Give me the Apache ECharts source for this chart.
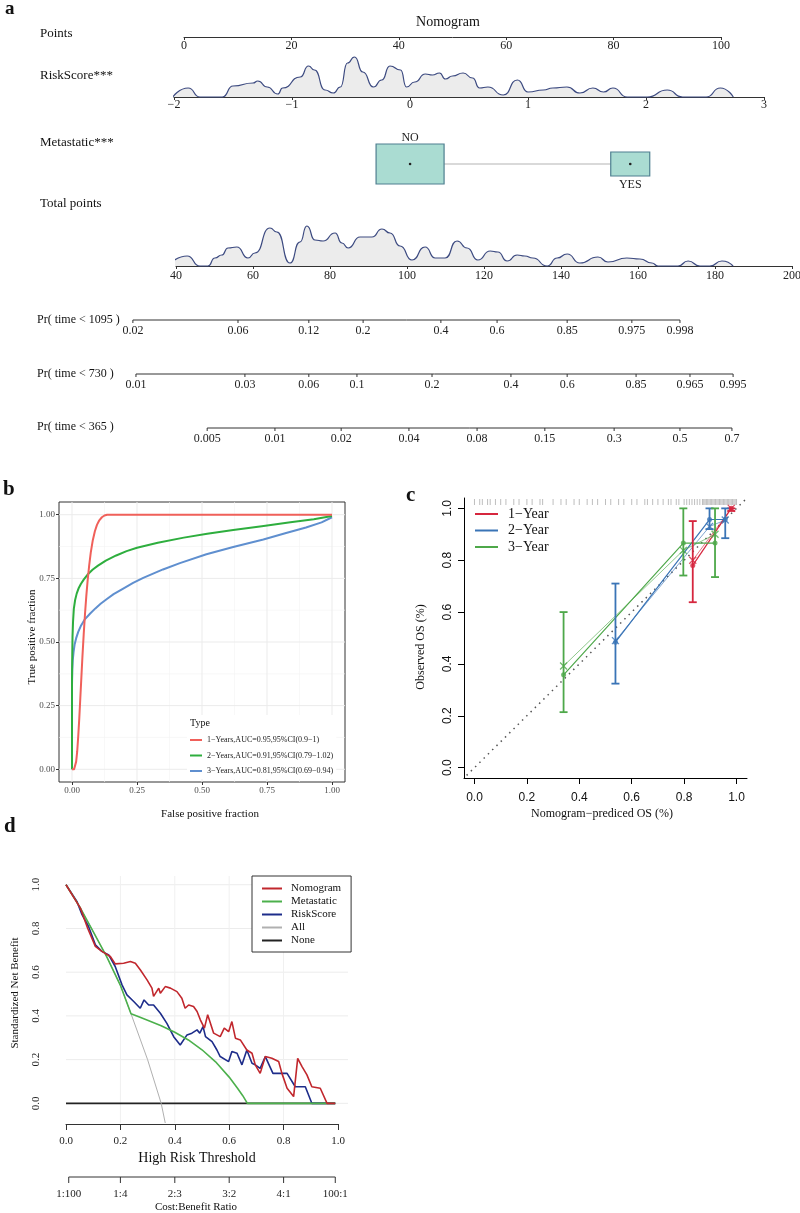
<!DOCTYPE html>
<html>
<head>
<meta charset="utf-8">
<script src="https://cdn.jsdelivr.net/npm/echarts@6/dist/echarts.min.js"></script>
<style>
html,body{margin:0;padding:0;background:#fff;}
#chart{width:800px;height:1213px;}
</style>
</head>
<body>
<div id="chart"></div>
<script>
// ================= DATA =================
// --- Panel a: nomogram ---
const nomoRowLabels = ['Points', 'RiskScore***', 'Metastatic***', 'Total points'];
const riskScoreX = [-2.01,-1.88,-1.78,-1.59,-1.50,-1.33,-1.29,-1.21,-1.12,-1.08,-0.93,-0.86,-0.81,-0.72,-0.65,-0.59,-0.53,-0.47,-0.40,-0.31,-0.24,-0.17,-0.08,-0.03,0.04,0.13,0.19,0.25,0.30,0.36,0.45,0.53,0.59,0.66,0.79,0.91,1.00,1.13,1.21,1.33,1.44,1.55,1.64,1.72,1.84,2.01,2.18,2.31,2.51,2.63,2.74];
const riskScoreDensity = [0,9,0,0,11,14,16,10,3,9,20,31,27,7,4,10,34,40,25,10,17,31,27,10,15,23,22,24,18,21,24,19,9,10,2,17,5,7,9,10,4,9,5,9,0,0,7,0,0,9,0];
const metaLevels = ['NO', 'YES'];
const metaPoints = [42.1, 83.1];
const totalPointsX = [37.9,42.9,46.2,48.3,50.1,51.9,53.5,55.8,58.7,60.5,64.4,66.2,69.6,72.2,74.0,76.1,78.2,81.3,83.1,84.7,87.8,90.9,93.5,95.6,98.2,101.3,104.7,107.3,109.9,113.0,115.6,118.4,121.6,123.6,126.0,128.6,130.6,132.7,136.4,139.0,141.6,144.9,149.6,152.2,157.1,160.5,163.6,165.2,170.4,173.0,176.1,178.7,181.8,184.7];
const totalPointsDensity = [0,10,0,0,8,11,18,19,8,13,38,34,3,24,40,26,25,33,23,18,29,29,37,33,20,6,19,8,8,25,18,6,15,14,5,11,10,8,0,8,12,3,9,4,8,7,3,0,0,5,0,0,5,0];
const probRowNames = ['Pr( time < 1095 )', 'Pr( time < 730 )', 'Pr( time < 365 )'];
const prob1095Labels = ['0.02','0.06','0.12','0.2','0.4','0.6','0.85','0.975','0.998'];
const prob1095Points = [28.8,56.1,74.5,88.6,108.8,123.4,141.6,158.4,170.9];
const prob730Labels = ['0.01','0.03','0.06','0.1','0.2','0.4','0.6','0.85','0.965','0.995'];
const prob730Points = [29.6,57.9,74.5,87.0,106.5,127.0,141.6,159.5,173.5,184.7];
const prob365Labels = ['0.005','0.01','0.02','0.04','0.08','0.15','0.3','0.5','0.7'];
const prob365Points = [48.1,65.7,82.9,100.5,118.2,135.8,153.8,170.9,184.4];

// --- Panel b: ROC ---
const rocNames = ['1\u2212Years,AUC=0.95,95%CI(0.9\u22121)', '2\u2212Years,AUC=0.91,95%CI(0.79\u22121.02)', '3\u2212Years,AUC=0.81,95%CI(0.69\u22120.94)'];
const rocTicks = [0, 0.25, 0.5, 0.75, 1];
const rocMinorTicks = [0.125, 0.375, 0.625, 0.875];
const rocFpr1 = [0,0.008,0.012,0.016,0.02,0.024,0.028,0.032,0.036,0.04,0.045,0.05,0.055,0.06,0.066,0.072,0.08,0.088,0.096,0.105,0.115,0.125,0.135,0.2,0.5,1.0];
const rocTpr1 = [0,0,0.005,0.03,0.07,0.13,0.2,0.28,0.36,0.44,0.53,0.61,0.68,0.74,0.8,0.85,0.9,0.935,0.96,0.978,0.99,0.997,1,1,1,1];
const rocFpr2 = [0,0,0,0.001,0.002,0.004,0.007,0.012,0.018,0.025,0.034,0.045,0.06,0.08,0.1,0.13,0.17,0.21,0.25,0.33,0.43,0.52,0.62,0.73,0.84,0.93,1.0];
const rocTpr2 = [0,0.2,0.35,0.45,0.52,0.58,0.63,0.665,0.69,0.71,0.728,0.745,0.765,0.785,0.80,0.82,0.84,0.857,0.87,0.89,0.91,0.925,0.94,0.955,0.97,0.982,0.995];
const rocFpr3 = [0,0,0,0.001,0.003,0.006,0.01,0.016,0.024,0.035,0.05,0.07,0.09,0.11,0.133,0.16,0.197,0.235,0.274,0.35,0.415,0.517,0.62,0.736,0.82,0.90,0.96,1.0];
const rocTpr3 = [0,0.2,0.33,0.39,0.43,0.46,0.49,0.515,0.54,0.565,0.59,0.612,0.632,0.65,0.668,0.688,0.71,0.732,0.752,0.785,0.81,0.845,0.873,0.903,0.927,0.95,0.97,0.99];

// --- Panel c: calibration ---
const calNames = ['1\u2212Year', '2\u2212Year', '3\u2212Year'];
const calTicks = [0, 0.2, 0.4, 0.6, 0.8, 1.0];
const cal1Pred = [0.833, 0.98];
const cal1Obs = [0.78, 1.0];
const cal1Lo = [0.638, 0.99];
const cal1Hi = [0.951, 1.0];
const cal1Corr = [0.80, 1.0];
const cal2Pred = [0.538, 0.897, 0.957];
const cal2Obs = [0.484, 0.957, 0.957];
const cal2Lo = [0.324, 0.92, 0.885];
const cal2Hi = [0.71, 1.0, 1.0];
const cal2Corr = [0.49, 0.93, 0.955];
const cal3Pred = [0.34, 0.797, 0.918];
const cal3Obs = [0.358, 0.866, 0.866];
const cal3Lo = [0.214, 0.741, 0.735];
const cal3Hi = [0.60, 1.0, 1.0];
const cal3Corr = [0.392, 0.838, 0.90];
const calRug = [0.0,0.02,0.03,0.05,0.06,0.08,0.1,0.12,0.15,0.17,0.2,0.22,0.25,0.26,0.3,0.33,0.35,0.38,0.4,0.43,0.45,0.47,0.5,0.52,0.55,0.57,0.6,0.62,0.65,0.66,0.68,0.7,0.72,0.74,0.75,0.77,0.78,0.8,0.81,0.82,0.83,0.84,0.85,0.86,0.87,0.875,0.88,0.885,0.89,0.895,0.9,0.905,0.91,0.915,0.92,0.925,0.93,0.935,0.94,0.945,0.95,0.955,0.96,0.965,0.97,0.975,0.98,0.985,0.99,0.995,1.0];

// --- Panel d: decision curves ---
const dcaNames = ['Nomogram', 'Metastatic', 'RiskScore', 'All', 'None'];
const dYTicks = [0, 0.2, 0.4, 0.6, 0.8, 1.0];
const nomoX = [0,0.053,0.080,0.108,0.132,0.163,0.181,0.212,0.237,0.255,0.273,0.298,0.316,0.322,0.341,0.347,0.365,0.384,0.408,0.426,0.438,0.451,0.469,0.482,0.494,0.509,0.521,0.543,0.567,0.582,0.598,0.610,0.623,0.641,0.665,0.684,0.696,0.714,0.733,0.757,0.782,0.794,0.813,0.837,0.852,0.868,0.886,0.904,0.935,0.960,0.990];
const nomoY = [1.0,0.893,0.80,0.718,0.695,0.672,0.638,0.641,0.649,0.641,0.611,0.565,0.527,0.489,0.527,0.504,0.534,0.527,0.511,0.481,0.435,0.45,0.443,0.42,0.382,0.344,0.405,0.321,0.305,0.344,0.328,0.374,0.298,0.29,0.244,0.229,0.176,0.137,0.214,0.206,0.191,0.137,0.069,0.031,0.206,0.168,0.13,0.076,0.069,0.0,0.0];
const metaX = [0,0.05,0.1,0.15,0.2,0.239,0.27,0.3,0.35,0.4,0.45,0.5,0.55,0.6,0.63,0.65,0.667,0.99];
const metaY = [1.0,0.90,0.785,0.67,0.54,0.41,0.395,0.38,0.355,0.325,0.29,0.245,0.19,0.12,0.07,0.035,0,0];
const riskX = [0,0.040,0.059,0.083,0.108,0.132,0.157,0.181,0.206,0.224,0.249,0.273,0.287,0.304,0.322,0.347,0.371,0.396,0.420,0.445,0.463,0.482,0.492,0.504,0.513,0.537,0.555,0.567,0.598,0.610,0.629,0.647,0.665,0.684,0.696,0.714,0.733,0.761,0.813,0.843,0.880,0.904,0.990];
const riskY = [1.0,0.924,0.863,0.809,0.725,0.695,0.679,0.626,0.542,0.496,0.466,0.435,0.473,0.450,0.450,0.412,0.366,0.305,0.267,0.313,0.321,0.336,0.321,0.351,0.305,0.282,0.244,0.214,0.191,0.237,0.229,0.176,0.244,0.183,0.176,0.160,0.214,0.137,0.137,0.076,0.076,0.0,0.0];
const allX = [0,0.05,0.1,0.15,0.2,0.239,0.3,0.35,0.365];
const allY = [1.0,0.90,0.785,0.67,0.54,0.41,0.2,0.0,-0.09];
const noneX = [0, 0.99];
const noneY = [0, 0];
const costBenefitPos = [0.01, 0.2, 0.4, 0.6, 0.8, 0.99];
const costBenefitLabels = ['1:100', '1:4', '2:3', '3:2', '4:1', '100:1'];

// ================= BUILD =================
const SERIF = '"Liberation Serif","Times New Roman",serif';
const SANS = '"Liberation Sans",Arial,sans-serif';
const zip = (a, b) => a.map((v, i) => [v, b[i]]);
const chart = echarts.init(document.getElementById('chart'), null, {width: 800, height: 1213});

const grid = [
  {left:184, top:20, width:537, height:17},    // 0 points
  {left:174, top:55, width:590, height:42},    // 1 riskscore density
  {left:184, top:144, width:537, height:40},   // 2 metastatic
  {left:176, top:224, width:616, height:42},   // 3 total points
  {left:22, top:320, width:770, height:108},   // 4 probability rows
  {left:59, top:502, width:286, height:280, show:true, borderColor:'#333', borderWidth:1, backgroundColor:'transparent'}, // 5 ROC
  {left:464, top:498, width:283, height:280},  // 6 calibration
  {left:66, top:876, width:282, height:247},   // 7 DCA
  {left:66, top:1100, width:272, height:24},   // 8 threshold axis
  {left:66, top:1150, width:272, height:27}    // 9 cost:benefit
].map(g => Object.assign({outerBoundsMode:'none', containLabel:false}, g));

const lineCol = '#333';
const nomoAxis = (gi, min, max, interval, margin, fmt) => ({
  gridIndex: gi, type: 'value', min, max, interval,
  axisLine: {onZero:false, lineStyle:{color:lineCol, width:1}},
  axisTick: {length:3, lineStyle:{color:lineCol}},
  axisLabel: {margin, fontFamily:SERIF, fontSize:12, color:'#222', formatter: fmt},
  splitLine: {show:false}
});

const xAxis = [
  nomoAxis(0, 0, 100, 20, 3),
  nomoAxis(1, -2, 3, 1, 2, v => v < 0 ? '\u2212' + Math.abs(v) : String(v)),
  {gridIndex:2, type:'value', min:0, max:100, show:false},
  nomoAxis(3, 40, 200, 20, 4),
  {gridIndex:4, type:'value', min:0, max:200, show:false},
  {gridIndex:5, type:'value', min:-0.05, max:1.05,
    axisLine:{show:false, onZero:false},
    axisTick:{length:3, customValues:rocTicks, lineStyle:{color:lineCol}},
    axisLabel:{customValues:rocTicks, margin:4, formatter:v => v.toFixed(2), fontFamily:SERIF, fontSize:9, color:'#4d4d4d'},
    splitLine:{show:false}},
  {gridIndex:6, type:'value', min:-0.04, max:1.04,
    axisLine:{show:true, onZero:false, lineStyle:{color:'#000'}},
    axisTick:{length:6, customValues:calTicks, lineStyle:{color:'#000'}},
    axisLabel:{customValues:calTicks, margin:14, formatter:v => v.toFixed(1), fontFamily:SANS, fontSize:12, color:'#111'},
    splitLine:{show:false}},
  {gridIndex:7, type:'value', min:0, max:1.037, show:false},
  {gridIndex:8, type:'value', min:0, max:1, interval:0.2,
    axisLine:{onZero:false, lineStyle:{color:lineCol}},
    axisTick:{length:6, lineStyle:{color:lineCol}},
    axisLabel:{margin:12, formatter:v => v.toFixed(1), fontFamily:SERIF, fontSize:11, color:'#222'},
    splitLine:{show:false}},
  {gridIndex:9, type:'value', min:0, max:1, show:false}
];

const yAxis = [
  {gridIndex:0, type:'value', min:0, max:1, show:false},
  {gridIndex:1, type:'value', min:0, max:42, show:false},
  {gridIndex:2, type:'value', min:0, max:1, show:false},
  {gridIndex:3, type:'value', min:0, max:42, show:false},
  {gridIndex:4, type:'value', min:0, max:2, inverse:true, show:false},
  {gridIndex:5, type:'value', min:-0.05, max:1.05,
    axisLine:{show:false, onZero:false},
    axisTick:{show:true, length:3, customValues:rocTicks, lineStyle:{color:lineCol}},
    axisLabel:{customValues:rocTicks, margin:4, formatter:v => v.toFixed(2), fontFamily:SERIF, fontSize:9, color:'#4d4d4d'},
    splitLine:{show:false}},
  {gridIndex:6, type:'value', min:-0.04, max:1.04,
    axisLine:{show:true, onZero:false, lineStyle:{color:'#000'}},
    axisTick:{show:true, length:6, customValues:calTicks, lineStyle:{color:'#000'}},
    axisLabel:{customValues:calTicks, rotate:90, margin:10, formatter:v => v.toFixed(1), fontFamily:SANS, fontSize:12, color:'#111'},
    splitLine:{show:false}},
  {gridIndex:7, type:'value', min:-0.09, max:1.04,
    axisLine:{show:false, onZero:false}, axisTick:{show:false},
    axisLabel:{customValues:dYTicks, rotate:90, margin:24, formatter:v => v.toFixed(1), fontFamily:SERIF, fontSize:11, color:'#222'},
    splitLine:{show:false}},
  {gridIndex:8, type:'value', min:0, max:1, show:false},
  {gridIndex:9, type:'value', min:0, max:1, show:false}
];

// ---- helper series ----
function vLines(xi, yi, vals, color, w) {
  return {type:'custom', xAxisIndex:xi, yAxisIndex:yi, silent:true, z:0,
    data: vals.map(v => [v, 0]),
    renderItem: (params, api) => {
      const cs = params.coordSys;
      const x = api.coord([api.value(0), 0])[0];
      return {type:'line', shape:{x1:x, y1:cs.y, x2:x, y2:cs.y + cs.height}, style:{stroke:color, lineWidth:w}};
    }};
}
function hLines(xi, yi, vals, color, w) {
  return {type:'custom', xAxisIndex:xi, yAxisIndex:yi, silent:true, z:0,
    data: vals.map(v => [0, v]),
    renderItem: (params, api) => {
      const cs = params.coordSys;
      const y = api.coord([0, api.value(1)])[1];
      return {type:'line', shape:{x1:cs.x, y1:y, x2:cs.x + cs.width, y2:y}, style:{stroke:color, lineWidth:w}};
    }};
}

const series = [];

// ---- Panel a ----
series.push({type:'line', name:'RiskScore density', xAxisIndex:1, yAxisIndex:1, data:zip(riskScoreX, riskScoreDensity),
  smooth:0.6, smoothMonotone:'x', symbol:'none', clip:false,
  lineStyle:{color:'#3c4a80', width:1.2}, areaStyle:{color:'#ececec', opacity:1}});
series.push({type:'line', name:'Total points density', xAxisIndex:3, yAxisIndex:3, data:zip(totalPointsX, totalPointsDensity),
  smooth:0.6, smoothMonotone:'x', symbol:'none', clip:false,
  lineStyle:{color:'#3c4a80', width:1.2}, areaStyle:{color:'#ececec', opacity:1}});
series.push({type:'line', name:'Metastatic link', xAxisIndex:2, yAxisIndex:2, data:metaPoints.map(p => [p, 0.5]),
  symbol:'none', lineStyle:{color:'#d9d9d9', width:2}, z:1});
const metaBox = [[68, 40], [39, 24]];
series.push({type:'custom', name:'Metastatic boxes', xAxisIndex:2, yAxisIndex:2, z:3,
  data: metaPoints.map(p => [p, 0.5]),
  renderItem: (params, api) => {
    const c = api.coord([api.value(0), api.value(1)]);
    const [w, h] = metaBox[params.dataIndex];
    const lbl = metaLevels[params.dataIndex];
    const ly = params.dataIndex === 0 ? c[1] - h / 2 - 6 : c[1] + h / 2 + 9;
    return {type:'group', children:[
      {type:'rect', shape:{x:c[0] - w / 2, y:c[1] - h / 2, width:w, height:h}, style:{fill:'#aadcd2', stroke:'#4f7f90', lineWidth:1.2}},
      {type:'circle', shape:{cx:c[0], cy:c[1], r:1.3}, style:{fill:'#222'}},
      {type:'text', x:c[0], y:ly, style:{text:lbl, font:'12px ' + SERIF, fill:'#222', align:'center', verticalAlign:'middle'}}
    ]};
  }});
const probRows = [
  {pts: prob1095Points, labels: prob1095Labels},
  {pts: prob730Points, labels: prob730Labels},
  {pts: prob365Points, labels: prob365Labels}
];
probRows.forEach((row, ri) => {
  series.push({type:'line', name:'prob line ' + ri, xAxisIndex:4, yAxisIndex:4,
    data:[[row.pts[0], ri], [row.pts[row.pts.length - 1], ri]], symbol:'none', clip:false,
    lineStyle:{color:lineCol, width:1}});
  series.push({type:'custom', name:'prob ticks ' + ri, xAxisIndex:4, yAxisIndex:4,
    data: row.pts.map(p => [p, ri]),
    renderItem: (params, api) => {
      const c = api.coord([api.value(0), api.value(1)]);
      return {type:'group', children:[
        {type:'line', shape:{x1:c[0], y1:c[1], x2:c[0], y2:c[1] + 3}, style:{stroke:lineCol, lineWidth:1}},
        {type:'text', x:c[0], y:c[1] + 11, style:{text:row.labels[params.dataIndex], font:'12px ' + SERIF, fill:'#222', align:'center', verticalAlign:'middle'}}
      ]};
    }});
});

// ---- Panel b ----
series.push(vLines(5, 5, rocMinorTicks, '#f3f3f3', 0.6));
series.push(hLines(5, 5, rocMinorTicks, '#f3f3f3', 0.6));
series.push(vLines(5, 5, rocTicks, '#ebebeb', 1));
series.push(hLines(5, 5, rocTicks, '#ebebeb', 1));
const rocColors = ['#f0605a', '#2eae3e', '#5f8fcf'];
[[rocFpr1, rocTpr1], [rocFpr2, rocTpr2], [rocFpr3, rocTpr3]].forEach((d, i) => {
  series.push({type:'line', name:rocNames[i], xAxisIndex:5, yAxisIndex:5, data:zip(d[0], d[1]),
    smooth:false, symbol:'none', color:rocColors[i], lineStyle:{color:rocColors[i], width:2, join:'round'}, z:3 - i * 0.1});
});

// ---- Panel c ----
series.push({type:'custom', name:'rug', xAxisIndex:6, yAxisIndex:6, silent:true,
  data: calRug.map(v => [v, 1.04]),
  renderItem: (params, api) => {
    const c = api.coord([api.value(0), api.value(1)]);
    return {type:'line', shape:{x1:c[0], y1:c[1] + 1, x2:c[0], y2:c[1] + 7}, style:{stroke:'rgba(110,110,110,0.45)', lineWidth:1}};
  }});
series.push({type:'line', name:'ideal', xAxisIndex:6, yAxisIndex:6, data:[[-0.03, -0.03], [1.04, 1.04]],
  symbol:'none', clip:false, lineStyle:{color:'#555', width:1.5, type:[1.5, 4.5]}});
const calColors = ['#d6263e', '#3a74b6', '#4ea84a'];
const calGroups = [
  {pred:cal1Pred, obs:cal1Obs, lo:cal1Lo, hi:cal1Hi, corr:cal1Corr},
  {pred:cal2Pred, obs:cal2Obs, lo:cal2Lo, hi:cal2Hi, corr:cal2Corr},
  {pred:cal3Pred, obs:cal3Obs, lo:cal3Lo, hi:cal3Hi, corr:cal3Corr}
];
calGroups.forEach((g, i) => {
  const col = calColors[i];
  series.push({type:'line', name:calNames[i], xAxisIndex:6, yAxisIndex:6, data:zip(g.pred, g.obs),
    symbol:'none', color:col, lineStyle:{color:col, width:1.2}, z:3});
  series.push({type:'line', name:calNames[i] + ' corrected', xAxisIndex:6, yAxisIndex:6, data:zip(g.pred, g.corr),
    symbol:'none', color:col, lineStyle:{color:col, width:0.8, opacity:0.8}, z:3});
  series.push({type:'custom', name:calNames[i] + ' CI', xAxisIndex:6, yAxisIndex:6,
    data: g.pred.map((p, k) => [p, g.lo[k], g.hi[k]]), z:4,
    renderItem: (params, api) => {
      const x = api.value(0);
      const lo = api.coord([x, api.value(1)]);
      const hi = api.coord([x, api.value(2)]);
      const st = {stroke:col, lineWidth:1.8};
      return {type:'group', children:[
        {type:'line', shape:{x1:lo[0], y1:lo[1], x2:hi[0], y2:hi[1]}, style:st},
        {type:'line', shape:{x1:lo[0] - 4, y1:lo[1], x2:lo[0] + 4, y2:lo[1]}, style:st},
        {type:'line', shape:{x1:hi[0] - 4, y1:hi[1], x2:hi[0] + 4, y2:hi[1]}, style:st}
      ]};
    }});
  series.push({type:'scatter', name:calNames[i] + ' points', xAxisIndex:6, yAxisIndex:6, data:zip(g.pred, g.obs),
    symbol:'circle', symbolSize:5, itemStyle:{color:col}, z:5});
  series.push({type:'scatter', name:calNames[i] + ' X', xAxisIndex:6, yAxisIndex:6, data:zip(g.pred, g.corr),
    symbol:'path://M0 0L10 10M10 0L0 10', symbolSize:7, itemStyle:{color:'rgba(0,0,0,0)', borderColor:col, borderWidth:1.3}, z:5});
});

// ---- Panel d ----
series.push(hLines(7, 7, dYTicks, '#ececec', 1));
series.push(vLines(7, 7, [0.2, 0.4, 0.6, 0.8], '#f0f0f0', 1));
const dcaColors = ['#c1272d', '#4cb04c', '#1d2c8a', '#b0b0b0', '#222222'];
[[nomoX, nomoY], [metaX, metaY], [riskX, riskY], [allX, allY], [noneX, noneY]].forEach((d, i) => {
  series.push({type:'line', name:dcaNames[i], xAxisIndex:7, yAxisIndex:7, data:zip(d[0], d[1]),
    symbol:'none', clip:false, smooth:false, color:dcaColors[i],
    lineStyle:{color:dcaColors[i], width: i === 3 ? 1 : 1.6}, z: 5 - i * 0.2});
});
series.push({type:'line', name:'cb line', xAxisIndex:9, yAxisIndex:9,
  data:[[costBenefitPos[0], 0], [costBenefitPos[costBenefitPos.length - 1], 0]], symbol:'none', clip:false,
  lineStyle:{color:lineCol, width:1}});
series.push({type:'custom', name:'cb ticks', xAxisIndex:9, yAxisIndex:9,
  data: costBenefitPos.map(p => [p, 0]),
  renderItem: (params, api) => {
    const c = api.coord([api.value(0), api.value(1)]);
    return {type:'group', children:[
      {type:'line', shape:{x1:c[0], y1:c[1], x2:c[0], y2:c[1] + 6}, style:{stroke:lineCol, lineWidth:1}},
      {type:'text', x:c[0], y:c[1] + 17, style:{text:costBenefitLabels[params.dataIndex], font:'11px ' + SERIF, fill:'#222', align:'center', verticalAlign:'middle'}}
    ]};
  }});

// ---- texts ----
function txt(text, x, y, font, align, rot) {
  return {type:'text', x, y, rotation: rot || 0, z:100, silent:true,
    style:{text, font, fill:'#111', align: align || 'left', verticalAlign:'middle'}};
}
const graphicEls = [
  txt('a', 5, 9, 'bold 19px ' + SERIF),
  txt('b', 3, 490, 'bold 21px ' + SERIF),
  txt('c', 406, 496, 'bold 21px ' + SERIF),
  txt('d', 4, 827, 'bold 21px ' + SERIF),
  txt('Nomogram', 448, 22, '14px ' + SERIF, 'center'),
  txt(nomoRowLabels[0], 40, 34, '13px ' + SERIF),
  txt(nomoRowLabels[1], 40, 76, '13px ' + SERIF),
  txt(nomoRowLabels[2], 40, 143, '13px ' + SERIF),
  txt(nomoRowLabels[3], 40, 204, '13px ' + SERIF),
  txt(probRowNames[0], 37, 320, '12px ' + SERIF),
  txt(probRowNames[1], 37, 374, '12px ' + SERIF),
  txt(probRowNames[2], 37, 427, '12px ' + SERIF),
  txt('True positive fraction', 32, 637, '11px ' + SERIF, 'center', Math.PI / 2),
  txt('False positive fraction', 210, 814, '11px ' + SERIF, 'center'),
  txt('Type', 190, 723, '10px ' + SERIF),
  txt('Observed OS (%)', 421, 647, '12px ' + SERIF, 'center', Math.PI / 2),
  txt('Nomogram\u2212prediced OS (%)', 602, 814, '12px ' + SERIF, 'center'),
  txt('Standardized Net Benefit', 15, 993, '11px ' + SERIF, 'center', Math.PI / 2),
  txt('High Risk Threshold', 197, 1158, '14px ' + SERIF, 'center'),
  txt('Cost:Benefit Ratio', 196, 1207, '11px ' + SERIF, 'center')
];

const option = {
  animation: false,
  backgroundColor: '#fff',
  grid, xAxis, yAxis, series,
  legend: [
    {data: rocNames, left:187, top:715, orient:'vertical', selectedMode:false,
      backgroundColor:'#fff', padding:[20, 3, 3, 3], itemWidth:12, itemHeight:2, itemGap:5.5, icon:'rect',
      textStyle:{fontFamily:SERIF, fontSize:8, lineHeight:10, color:'#222'}},
    {data: calNames, left:475, top:506, orient:'vertical', selectedMode:false, padding:0,
      itemWidth:23, itemHeight:2, itemGap:0.5, icon:'rect',
      textStyle:{fontFamily:SERIF, fontSize:14, lineHeight:16, color:'#111', padding:[0, 0, 0, 5]}},
    {data: dcaNames, left:252, top:876, orient:'vertical', selectedMode:false,
      backgroundColor:'#fff', borderColor:'#333', borderWidth:1, padding:[7, 10, 6, 10],
      itemWidth:20, itemHeight:2, itemGap:2, icon:'rect',
      textStyle:{fontFamily:SERIF, fontSize:11, lineHeight:11, color:'#111', padding:[0, 0, 0, 4]}}
  ],
  graphic: {elements: graphicEls}
};
chart.setOption(option);
</script>
</body>
</html>
